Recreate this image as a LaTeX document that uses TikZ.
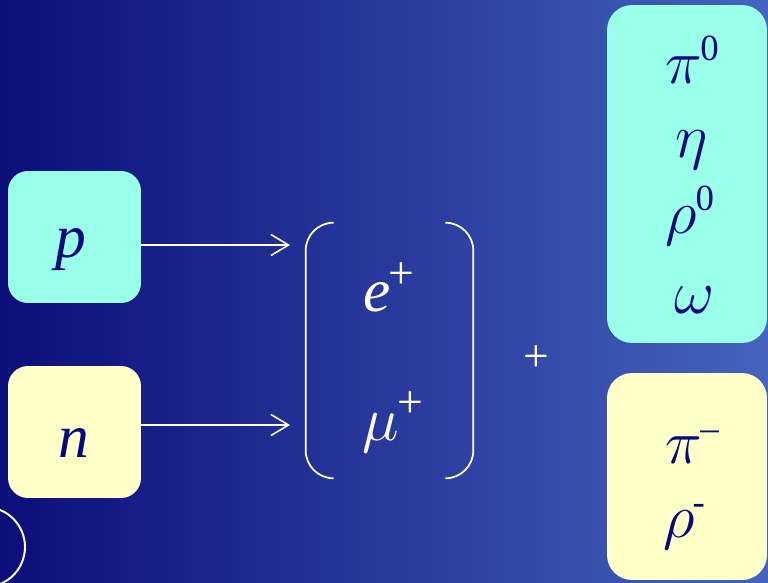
\documentclass[tikz,border=0pt]{standalone}
\usepackage{fontspec}
\setmainfont{Liberation Serif}
\usetikzlibrary{arrows.meta}

\definecolor{navybg}{RGB}{12,14,122}
\definecolor{bluebg}{RGB}{68,100,190}
\definecolor{mint}{RGB}{153,255,232}
\definecolor{cream}{RGB}{255,255,200}
\definecolor{ink}{RGB}{8,8,128}
\newcommand\hsup[2][21]{\kern-1pt\raisebox{0.8ex}{\fontsize{#1}{#1}\selectfont\upshape #2}}
\newcommand\gk[1]{\scalebox{1.42}{\fontsize{24.88}{28}\selectfont$#1$}}

\begin{document}
\begin{tikzpicture}[
  x=0.02cm, y=-0.02cm,
  box/.style={draw=none, inner sep=0pt},
  lbl/.style={anchor=base, inner sep=0pt, text=ink, font=\fontsize{35}{40}\selectfont\itshape},
  wlbl/.style={lbl, text=white},
  arr/.style={->, >={Straight Barb[length=10pt,width=12pt]}, white, line width=0.9pt},
  brk/.style={white, line width=1pt, rounded corners=0.56cm}
]
  \useasboundingbox (0,0) rectangle (768,582);
  \shade[left color=navybg, right color=bluebg] (0,0) rectangle (768,582);
  \clip (0,0) rectangle (768,582);

  % incoming nucleons
  \node[box, fill=mint, rounded corners=0.4cm, minimum width=2.66cm, minimum height=2.64cm] (p) at (74.5,237) {};
  \node[box, fill=cream, rounded corners=0.4cm, minimum width=2.66cm, minimum height=2.64cm] (n) at (74.5,432) {};
  \node[lbl] (pl) at (71,257) {p};
  \node[lbl] (nl) at (74,457) {n};

  % leptons
  \node[box, minimum width=3.34cm, minimum height=5.1cm] (lep) at (389.5,350.5) {};
  \node[wlbl] (ep) at (389,311) {e\hsup[26]{+}};
  \node[wlbl] (mup) at (393,440) {\gk{\mu}\hsup[26]{+}};
  \draw[brk] ([xshift=0.56cm]lep.north west) -- (lep.north west) -- (lep.south west) -- ([xshift=0.56cm]lep.south west);
  \draw[brk] ([xshift=-0.56cm]lep.north east) -- (lep.north east) -- (lep.south east) -- ([xshift=-0.56cm]lep.south east);

  \coordinate (pend) at (290,245);
  \coordinate (nend) at (290,425);
  \draw[arr] (p.east |- pend) -- (pend);
  \draw[arr] (n.east |- nend) -- (nend);

  \node[wlbl, font=\fontsize{26}{30}\selectfont] (plus) at (536,371) {+};

  % mesons
  \node[box, fill=mint, rounded corners=0.5cm, minimum width=3.2cm, minimum height=6.76cm] (mix) at (687,174) {};
  \node[box, fill=cream, rounded corners=0.5cm, minimum width=3.2cm, minimum height=4.14cm] (neg) at (687,476.5) {};
  \node[lbl] (pi0) at (692,83) {\gk{\pi}\hsup{0}};
  \node[lbl] (eta) at (692,157) {\gk{\eta}};
  \node[lbl] (rho0) at (690,233) {\gk{\rho}\hsup{0}};
  \node[lbl] (om) at (695,313) {\gk{\omega}};
  \node[lbl] (pim) at (692,463) {\gk{\pi}\hsup{–}};
  \node[lbl] (rhom) at (684,537) {\gk{\rho}\hsup{-}};

  \draw[white, line width=1.1pt] (-15,547) circle (0.8cm);
\end{tikzpicture}
\end{document}
